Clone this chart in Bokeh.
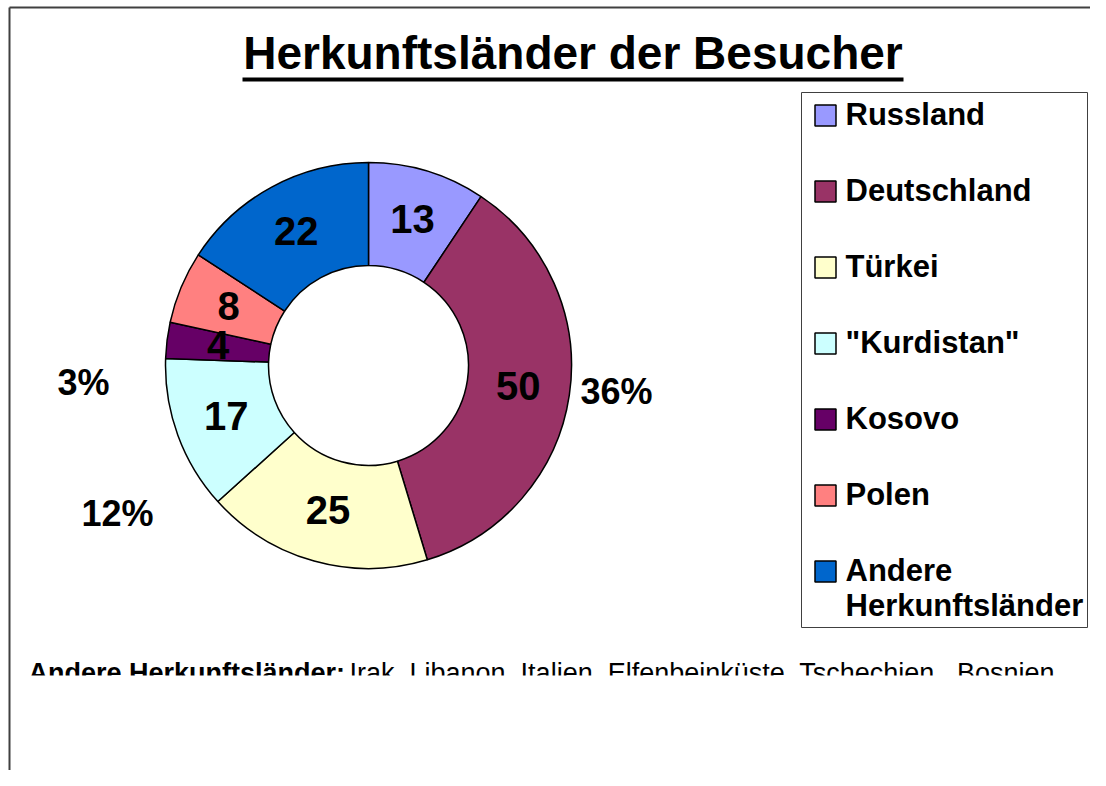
import math
from bokeh.plotting import figure
from bokeh.models import Range1d
from bokeh.core.properties import value
from bokeh.embed import file_html
from bokeh.resources import INLINE

# ---------------- data ----------------
countries = ["Russland", "Deutschland", "Türkei", "\"Kurdistan\"", "Kosovo", "Polen",
             "Andere Herkunftsländer"]
visitors = [13, 50, 25, 17, 4, 8, 22]
colors = ["#9999FF", "#993366", "#FFFFCC", "#CCFFFF", "#660066", "#FF8080", "#0066CC"]
legend_labels = ["Russland", "Deutschland", "Türkei", "\"Kurdistan\"", "Kosovo", "Polen",
                 "Andere\nHerkunftsländer"]
percent_shown = ["Deutschland", "\"Kurdistan\"", "Kosovo"]
title_text = "Herkunftsländer der Besucher"
note_bold = "Andere Herkunftsländer:"
note_text = "Irak, Libanon, Italien, Elfenbeinküste, Tschechien , Bosnien"

# ---------------- layout ----------------
W, H = 1090, 770
FONT = "Liberation Sans"
BASE_SHIFT = 0.39  # compensation (in em) of the rendered alphabetic baseline


def sx(X):  # picture pixel -> data x
    return X


def sy(Y):  # picture pixel -> data y
    return H - Y


def base(Y, size):  # data y so that the text baseline lands on picture row Y
    return sy(Y) + BASE_SHIFT * size


CX, CY = sx(368), sy(365)
R_IN, R_OUT = 100, 203
R_MID = (R_IN + R_OUT) / 2
# percent label placement (offset of text centre / baseline from donut centre, px)
pct_offsets = {"Deutschland": (248, 40), "\"Kurdistan\"": (-251, 162), "Kosovo": (-285, 31)}

p = figure(width=W, height=H, output_backend="svg", toolbar_location=None,
           x_range=Range1d(0, W), y_range=Range1d(0, H),
           x_axis_type=None, y_axis_type=None, min_border=0,
           background_fill_color="white", border_fill_color="white",
           outline_line_color=None)
p.grid.visible = False

# frame lines (left and top)
p.segment(x0=[sx(9), sx(9)], y0=[0, sy(7)], x1=[sx(9), W], y1=[sy(7), sy(7)],
          line_color="#404040", line_width=2)

# title + underline
TS = 46
p.text(x=[sx(572.5)], y=[base(70, TS)], text=[title_text], text_font=value(FONT),
       text_font_style="bold", text_font_size=f"{TS}px", text_align="center",
       text_baseline="alphabetic", text_color="black")
p.segment(x0=[sx(242)], y0=[sy(79)], x1=[sx(903)], y1=[sy(79)],
          line_color="black", line_width=4)

# donut
total = sum(visitors)
cum = 0
starts, ends, mids = [], [], []
for v in visitors:
    a_start = math.pi / 2 - 2 * math.pi * (cum + v) / total
    a_end = math.pi / 2 - 2 * math.pi * cum / total
    starts.append(a_start)
    ends.append(a_end)
    mids.append((a_start + a_end) / 2)
    cum += v

p.annular_wedge(x=[CX] * len(visitors), y=[CY] * len(visitors),
                inner_radius=R_IN, outer_radius=R_OUT,
                start_angle=starts, end_angle=ends, direction="anticlock",
                fill_color=colors, line_color="black", line_width=1.5)

# value labels (cap-centred on the mid-radius of each slice)
VS = 40
lx = [CX + R_MID * math.cos(m) for m in mids]
ly = [CY + R_MID * math.sin(m) - 0.358 * VS + BASE_SHIFT * VS for m in mids]
p.text(x=lx, y=ly, text=[str(v) for v in visitors], text_font=value(FONT),
       text_font_style="bold", text_font_size=f"{VS}px", text_align="center",
       text_baseline="alphabetic", text_color="black")

# percentage labels
PS = 36
px, py, pt = [], [], []
for c, v in zip(countries, visitors):
    if c in percent_shown:
        dx, dy = pct_offsets[c]
        px.append(CX + dx)
        py.append(CY - dy + BASE_SHIFT * PS)
        pt.append(f"{round(v / total * 100)}%")
p.text(x=px, y=py, text=pt, text_font=value(FONT), text_font_style="bold",
       text_font_size=f"{PS}px", text_align="center", text_baseline="alphabetic",
       text_color="black")

# legend box
p.quad(left=[sx(801)], right=[sx(1087)], top=[sy(92)], bottom=[sy(627)],
       fill_color="white", line_color="#404040", line_width=1)
LS = 31
step = 76
sq_x, sq_y, tx, ty, tt = [], [], [], [], []
for i, lab in enumerate(legend_labels):
    b = 126 + step * i
    sq_x.append(sx(825))
    sq_y.append(sy(b - 11))
    for k, line in enumerate(lab.split("\n")):
        tx.append(sx(845))
        ty.append(base(b + 35 * k, LS))
        tt.append(line)
p.rect(x=sq_x, y=sq_y, width=21, height=21, fill_color=colors,
       line_color="black", line_width=1.5)
p.text(x=tx, y=ty, text=tt, text_font=value(FONT), text_font_style="bold",
       text_font_size=f"{LS}px", text_align="left", text_baseline="alphabetic",
       text_color="black")

# note below chart (clipped at bottom of its text box)
NS = 27
p.text(x=[sx(28)], y=[base(683, NS)], text=[note_bold], text_font=value(FONT),
       text_font_style="bold", text_font_size=f"{NS}px", text_align="left",
       text_baseline="alphabetic", text_color="black")
p.text(x=[sx(349)], y=[base(683, 27)], text=[note_text], text_font=value(FONT),
       text_font_size="27px", text_align="left", text_baseline="alphabetic",
       text_color="black")
p.quad(left=[sx(12)], right=[W], top=[sy(675)], bottom=[sy(705)],
       fill_color="white", line_color=None)

open("out.html", "w").write(file_html(p, INLINE))
